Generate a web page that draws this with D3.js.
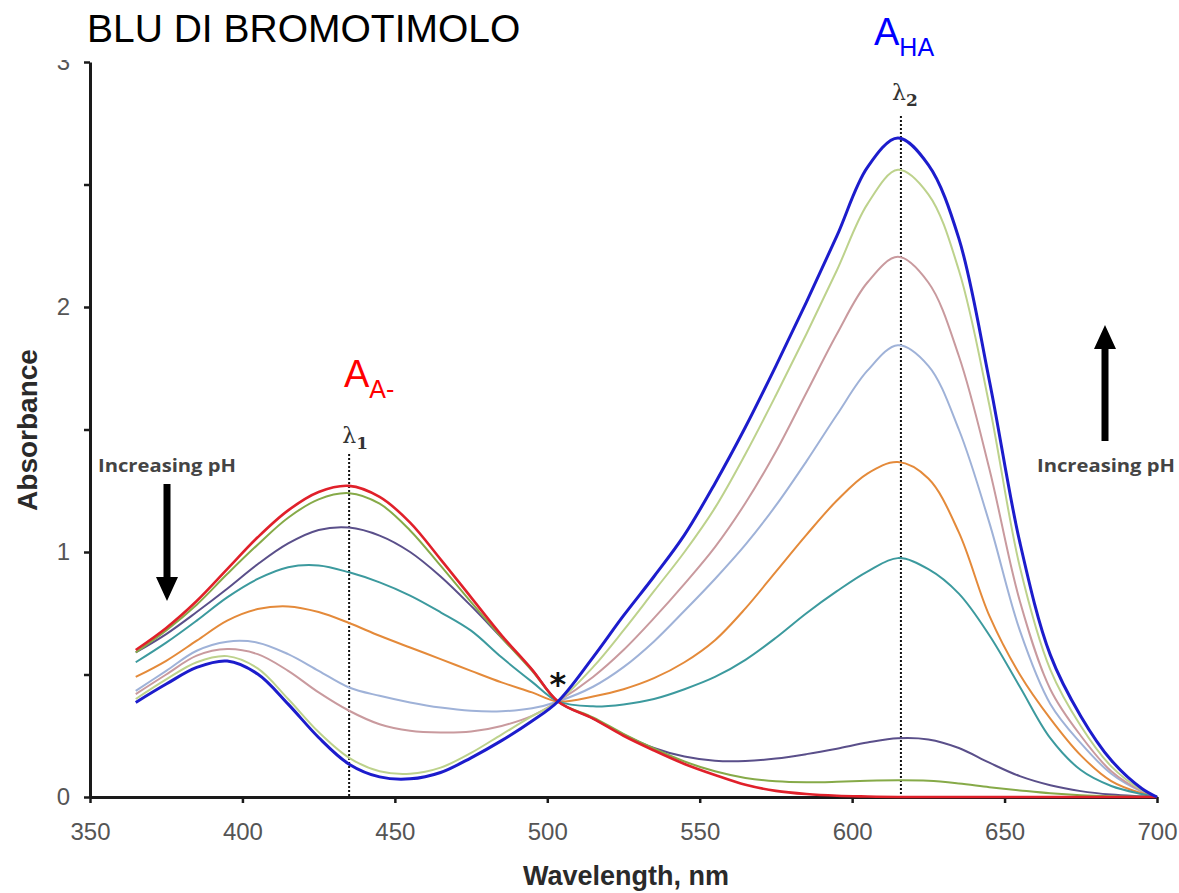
<!DOCTYPE html>
<html>
<head>
<meta charset="utf-8">
<script src="https://cdn.jsdelivr.net/npm/d3@7"></script>
<style>
  html, body { margin: 0; padding: 0; background: #fff; }
  svg { display: block; }
</style>
</head>
<body>
<svg id="chart" width="1179" height="893"></svg>
<script>
// ---------------- DATA ----------------
const wavelengths = [365,375,385,395,405,415,425,435,445,455,465,475,485,495,503.5,515,525,535,545,555,565,575,585,595,605,615,625,635,645,655,665,675,685,695,700];

const seriesNames = ["lavender","pink","lightgreen","orange","teal","purple","green","red","blue"];
const seriesColors = ["#9fb2d8","#c99a9e","#bdd28c","#e48a3a","#3c9a9e","#5a4f8a","#86aa48","#e0202a","#1c1ccc"];
const seriesWidths = [2,2,2,2,2,2,2,2.6,3];

const lavender   = [0.433,0.515,0.597,0.634,0.63,0.583,0.515,0.447,0.413,0.386,0.365,0.352,0.35,0.362,0.39,0.45,0.53,0.635,0.76,0.89,1.03,1.19,1.37,1.56,1.74,1.844,1.76,1.50,1.12,0.68,0.38,0.22,0.095,0.022,0];
const pink       = [0.42,0.50,0.577,0.604,0.583,0.515,0.427,0.352,0.297,0.27,0.263,0.267,0.29,0.331,0.39,0.49,0.60,0.73,0.87,1.02,1.20,1.41,1.65,1.89,2.10,2.205,2.10,1.80,1.34,0.80,0.44,0.25,0.105,0.024,0];
const lightgreen = [0.40,0.48,0.55,0.575,0.525,0.40,0.265,0.16,0.105,0.095,0.12,0.18,0.255,0.33,0.39,0.53,0.68,0.84,1.00,1.18,1.40,1.64,1.89,2.15,2.42,2.56,2.46,2.15,1.60,0.94,0.52,0.29,0.125,0.028,0];
const orange     = [0.49,0.556,0.638,0.72,0.767,0.778,0.755,0.71,0.658,0.61,0.563,0.515,0.468,0.427,0.39,0.41,0.44,0.485,0.55,0.64,0.77,0.92,1.07,1.21,1.32,1.367,1.30,1.08,0.74,0.50,0.32,0.17,0.065,0.015,0];
const teal       = [0.55,0.63,0.72,0.815,0.89,0.938,0.945,0.917,0.876,0.822,0.754,0.679,0.57,0.47,0.39,0.37,0.378,0.40,0.44,0.49,0.56,0.65,0.75,0.84,0.92,0.975,0.93,0.83,0.66,0.45,0.24,0.11,0.045,0.012,0];
const purple     = [0.59,0.665,0.755,0.85,0.95,1.035,1.09,1.10,1.067,1.0,0.9,0.78,0.65,0.52,0.39,0.32,0.255,0.2,0.165,0.148,0.147,0.157,0.175,0.197,0.222,0.24,0.235,0.2,0.14,0.085,0.048,0.024,0.01,0.003,0];
const green      = [0.59,0.68,0.785,0.91,1.03,1.14,1.215,1.24,1.197,1.088,0.944,0.795,0.651,0.515,0.39,0.325,0.258,0.198,0.145,0.105,0.078,0.064,0.06,0.062,0.066,0.068,0.066,0.055,0.04,0.027,0.015,0.007,0.003,0.001,0];
const red        = [0.60,0.69,0.80,0.93,1.06,1.17,1.245,1.27,1.225,1.12,0.97,0.815,0.66,0.52,0.39,0.32,0.25,0.19,0.135,0.09,0.05,0.025,0.012,0.005,0.002,0,0,0,0,0,0,0,0,0,0];
const blue       = [0.386,0.461,0.529,0.555,0.502,0.379,0.243,0.134,0.082,0.074,0.10,0.16,0.23,0.31,0.39,0.57,0.74,0.90,1.07,1.28,1.51,1.76,2.02,2.29,2.57,2.69,2.58,2.28,1.70,1.04,0.58,0.33,0.15,0.035,0];

const seriesValues = [lavender, pink, lightgreen, orange, teal, purple, green, red, blue];

const xTicks = [350,400,450,500,550,600,650,700];
const yTicks = [0,0.5,1,1.5,2,2.5,3];
const lambda1 = 435;
const lambda2 = 616;
const isosbestic = [503.5, 0.39];

// ---------------- DRAW ----------------
const svg = d3.select("#chart");
const x = d3.scaleLinear().domain([350,700]).range([90,1157]);
const y = d3.scaleLinear().domain([0,3]).range([797,62]);

// title
svg.append("text")
  .attr("x", 87).attr("y", 42)
  .attr("font-family", "'Liberation Sans', Arial, sans-serif")
  .attr("font-size", 39)
  .attr("fill", "#000")
  .text("BLU DI BROMOTIMOLO");

// clip for the embedded chart area
svg.append("defs").append("clipPath").attr("id","imgclip")
  .append("rect").attr("x",0).attr("y",60).attr("width",1179).attr("height",893-60);

const g = svg.append("g").attr("clip-path","url(#imgclip)");

// x axis
const xAxis = g.append("g")
  .attr("transform", `translate(0,${y(0)})`)
  .call(d3.axisBottom(x).tickValues(xTicks).tickFormat(d3.format("d")).tickSize(6).tickSizeOuter(0).tickPadding(20));
xAxis.select(".domain").attr("stroke","#1a1a1a").attr("stroke-width",3);
xAxis.selectAll(".tick line").attr("stroke","#1a1a1a").attr("stroke-width",2.5);
xAxis.selectAll(".tick text")
  .attr("font-family","'Liberation Sans', Arial, sans-serif")
  .attr("font-size",24).attr("fill","#555");

// y axis
const yAxis = g.append("g")
  .attr("transform", `translate(${x(350)},0)`)
  .call(d3.axisLeft(y).tickValues(yTicks).tickFormat(d => Number.isInteger(d) ? d : "").tickSize(6).tickSizeOuter(0).tickPadding(14));
yAxis.select(".domain").attr("stroke","#1a1a1a").attr("stroke-width",3);
yAxis.selectAll(".tick line").attr("stroke","#1a1a1a").attr("stroke-width",2.5);
yAxis.selectAll(".tick text")
  .attr("font-family","'Liberation Sans', Arial, sans-serif")
  .attr("font-size",24).attr("fill","#555");

// axis titles
svg.append("text")
  .attr("x", 626).attr("y", 885)
  .attr("text-anchor","middle")
  .attr("font-family","'Liberation Sans', Arial, sans-serif")
  .attr("font-weight","bold")
  .attr("font-size",27)
  .attr("fill","#2a2a2a")
  .text("Wavelength, nm");

g.append("text")
  .attr("transform","translate(37,430) rotate(-90)")
  .attr("text-anchor","middle")
  .attr("font-family","'Liberation Sans', Arial, sans-serif")
  .attr("font-weight","bold")
  .attr("font-size",28)
  .attr("fill","#2a2a2a")
  .text("Absorbance");

// dotted lambda lines
g.append("line")
  .attr("x1", x(lambda1)).attr("x2", x(lambda1))
  .attr("y1", y(1.4)).attr("y2", y(0))
  .attr("stroke","#111").attr("stroke-width",2).attr("stroke-dasharray","2,2");
g.append("line")
  .attr("x1", x(lambda2)).attr("x2", x(lambda2))
  .attr("y1", y(2.78)).attr("y2", y(0))
  .attr("stroke","#111").attr("stroke-width",2).attr("stroke-dasharray","2,2");

// curves
const line = d3.line()
  .x(d => x(d[0]))
  .y(d => y(Math.max(0, d[1])))
  .curve(d3.curveCatmullRom.alpha(0.5));

seriesValues.forEach((vals, i) => {
  const pts = wavelengths.map((w, j) => [w, vals[j]]);
  g.append("path")
    .datum(pts)
    .attr("fill","none")
    .attr("stroke", seriesColors[i])
    .attr("stroke-width", seriesWidths[i])
    .attr("stroke-linejoin","round")
    .attr("d", line);
});

// isosbestic star
g.append("text")
  .attr("x", x(isosbestic[0])).attr("y", y(isosbestic[1]) - 6)
  .attr("text-anchor","middle")
  .attr("font-family","'DejaVu Sans', sans-serif")
  .attr("font-weight","bold")
  .attr("font-size",32)
  .attr("fill","#111")
  .text("*");

// lambda labels
function lambdaLabel(cx, baseY, sub) {
  const t = g.append("text")
    .attr("x", cx).attr("y", baseY)
    .attr("text-anchor","middle")
    .attr("font-family","'DejaVu Serif', serif")
    .attr("font-size",22)
    .attr("fill","#333");
  t.append("tspan").text("λ");
  t.append("tspan").attr("dy",6).attr("font-size",17).attr("font-weight","bold").text(sub);
}
lambdaLabel(x(lambda1) + 6, 443, "1");
lambdaLabel(x(lambda2) + 4, 100, "2");

// Increasing pH labels
function phLabel(cx, baseY) {
  g.append("text")
    .attr("x", cx).attr("y", baseY)
    .attr("text-anchor","middle")
    .attr("font-family","'Open Sans', 'Liberation Sans', sans-serif")
    .attr("font-weight","bold")
    .attr("font-size",17)
    .attr("fill","#444")
    .attr("textLength",138)
    .attr("lengthAdjust","spacingAndGlyphs")
    .text("Increasing pH");
}
phLabel(167, 472);
phLabel(1106, 472);

// arrows
function arrow(cx, yTail, yTip) {
  const dir = yTip > yTail ? 1 : -1;
  const headLen = 24, headW = 11, shaftW = 3.5;
  const yBase = yTip - dir * headLen;
  g.append("path")
    .attr("d", `M${cx-shaftW},${yTail} L${cx+shaftW},${yTail} L${cx+shaftW},${yBase} L${cx+headW},${yBase} L${cx},${yTip} L${cx-headW},${yBase} L${cx-shaftW},${yBase} Z`)
    .attr("fill","#000");
}
arrow(167, 484, 601);
arrow(1105, 441, 325);

// A labels (overlay, outside clip)
function aLabel(xPos, baseY, sub, color) {
  const t = svg.append("text")
    .attr("x", xPos).attr("y", baseY)
    .attr("font-family","'Liberation Sans', Arial, sans-serif")
    .attr("font-size",38)
    .attr("fill",color);
  t.append("tspan").text("A");
  t.append("tspan").attr("dy",11).attr("font-size",25).text(sub);
}
aLabel(344, 387, "A-", "#ff0000");
aLabel(874, 45, "HA", "#0000ff");
</script>
</body>
</html>
